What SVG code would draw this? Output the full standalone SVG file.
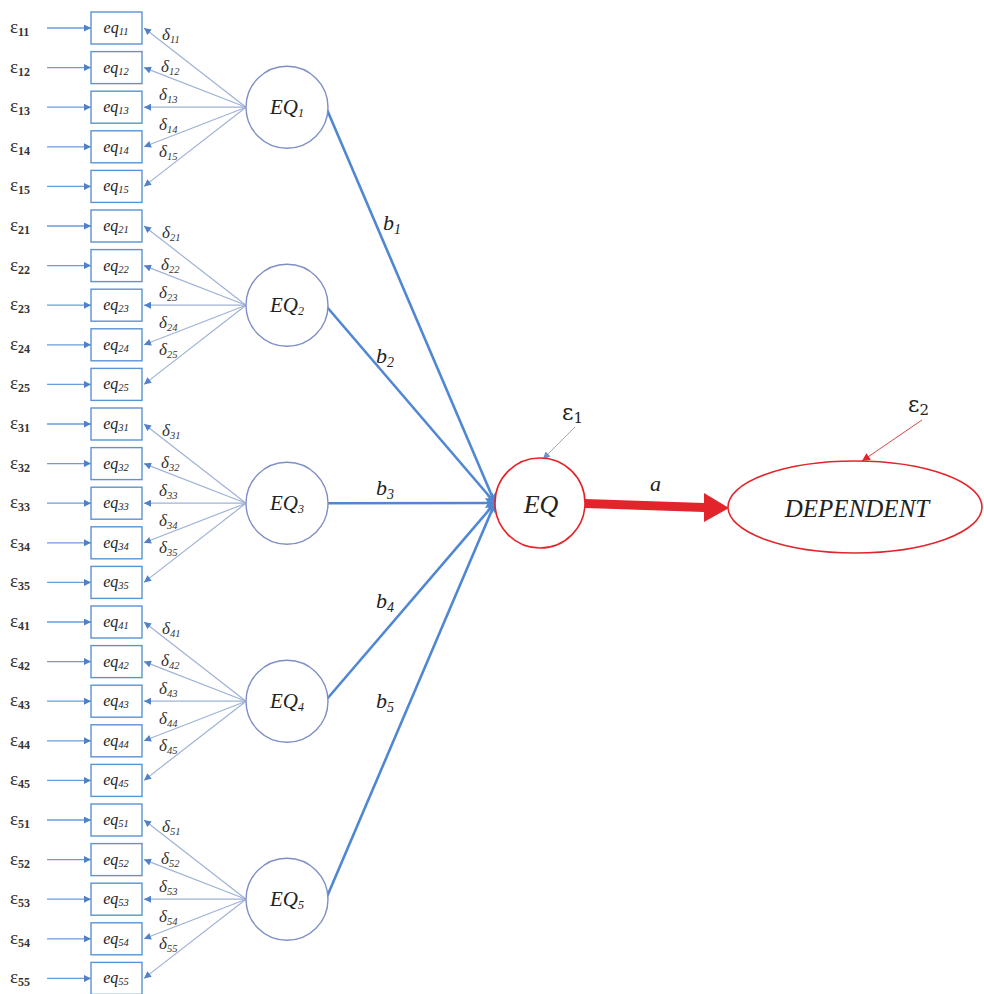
<svg xmlns="http://www.w3.org/2000/svg" width="984" height="994" viewBox="0 0 984 994">
<style>
.box{fill:#fff;stroke:#5b93d3;stroke-width:1.4}
.lat{fill:#fff;stroke:#7f8fc6;stroke-width:1.4}
.eps{font-family:"Liberation Serif",serif;font-size:19px;fill:#333}
.eps tspan{font-size:12px;font-weight:bold}
.eq{font-family:"Liberation Serif",serif;font-style:italic;font-size:16px;fill:#222;text-anchor:middle}
.eq tspan{font-size:10.5px}
.dl{font-family:"Liberation Serif",serif;font-style:italic;font-size:17px;fill:#333}
.dl tspan{font-size:10.5px}
.EQt{font-family:"Liberation Serif",serif;font-style:italic;font-size:21px;fill:#222;text-anchor:middle}
.EQt tspan{font-size:12px}
.bl{font-family:"Liberation Serif",serif;font-style:italic;font-size:22px;fill:#222}
.bl tspan{font-size:14px}
.ein{stroke:#6a9ddb;stroke-width:1.3;fill:none}
.dline{stroke:#9fb2d6;stroke-width:1.2;fill:none}
.main{stroke:#4f87d2;stroke-width:2.6;fill:none}
</style>
<defs>
<marker id="ah" viewBox="0 0 10 10" refX="10" refY="5" markerWidth="9" markerHeight="7" markerUnits="userSpaceOnUse" orient="auto"><path d="M0,0 L10,5 L0,10 z" fill="#4f80c8"/></marker>
<marker id="am" viewBox="0 0 10 10" refX="10" refY="5" markerWidth="13" markerHeight="10" markerUnits="userSpaceOnUse" orient="auto"><path d="M0,0 L10,5 L0,10 L3,5 z" fill="#4f87d2"/></marker>
<marker id="ag" viewBox="0 0 10 10" refX="10" refY="5" markerWidth="8" markerHeight="7" markerUnits="userSpaceOnUse" orient="auto"><path d="M0,0 L10,5 L0,10 z" fill="#6f90c8"/></marker>
<marker id="ar" viewBox="0 0 10 10" refX="10" refY="5" markerWidth="9" markerHeight="8" markerUnits="userSpaceOnUse" orient="auto"><path d="M0,0 L10,5 L0,10 z" fill="#e2252b"/></marker>
</defs>
<rect width="984" height="994" fill="#fff"/>

<g id="connectors">
<g class="ein" marker-end="url(#ah)">
<line x1="47" y1="28" x2="91" y2="28"/><line x1="47" y1="67.6" x2="91" y2="67.6"/><line x1="47" y1="107.2" x2="91" y2="107.2"/><line x1="47" y1="146.8" x2="91" y2="146.8"/><line x1="47" y1="186.4" x2="91" y2="186.4"/>
<line x1="47" y1="226" x2="91" y2="226"/><line x1="47" y1="265.6" x2="91" y2="265.6"/><line x1="47" y1="305.2" x2="91" y2="305.2"/><line x1="47" y1="344.8" x2="91" y2="344.8"/><line x1="47" y1="384.4" x2="91" y2="384.4"/>
<line x1="47" y1="424" x2="91" y2="424"/><line x1="47" y1="463.6" x2="91" y2="463.6"/><line x1="47" y1="503.2" x2="91" y2="503.2"/><line x1="47" y1="542.8" x2="91" y2="542.8"/><line x1="47" y1="582.4" x2="91" y2="582.4"/>
<line x1="47" y1="622" x2="91" y2="622"/><line x1="47" y1="661.6" x2="91" y2="661.6"/><line x1="47" y1="701.2" x2="91" y2="701.2"/><line x1="47" y1="740.8" x2="91" y2="740.8"/><line x1="47" y1="780.4" x2="91" y2="780.4"/>
<line x1="47" y1="820" x2="91" y2="820"/><line x1="47" y1="859.6" x2="91" y2="859.6"/><line x1="47" y1="899.2" x2="91" y2="899.2"/><line x1="47" y1="938.8" x2="91" y2="938.8"/><line x1="47" y1="978.4" x2="91" y2="978.4"/>
</g>
<g class="dline" marker-end="url(#ah)">
<line x1="246" y1="107.2" x2="144" y2="28"/><line x1="246" y1="107.2" x2="144" y2="67.6"/><line x1="246" y1="107.2" x2="144" y2="107.2"/><line x1="246" y1="107.2" x2="144" y2="146.8"/><line x1="246" y1="107.2" x2="144" y2="186.4"/>
<line x1="246" y1="305.2" x2="144" y2="226"/><line x1="246" y1="305.2" x2="144" y2="265.6"/><line x1="246" y1="305.2" x2="144" y2="305.2"/><line x1="246" y1="305.2" x2="144" y2="344.8"/><line x1="246" y1="305.2" x2="144" y2="384.4"/>
<line x1="246" y1="503.2" x2="144" y2="424"/><line x1="246" y1="503.2" x2="144" y2="463.6"/><line x1="246" y1="503.2" x2="144" y2="503.2"/><line x1="246" y1="503.2" x2="144" y2="542.8"/><line x1="246" y1="503.2" x2="144" y2="582.4"/>
<line x1="246" y1="701.2" x2="144" y2="622"/><line x1="246" y1="701.2" x2="144" y2="661.6"/><line x1="246" y1="701.2" x2="144" y2="701.2"/><line x1="246" y1="701.2" x2="144" y2="740.8"/><line x1="246" y1="701.2" x2="144" y2="780.4"/>
<line x1="246" y1="899.2" x2="144" y2="820"/><line x1="246" y1="899.2" x2="144" y2="859.6"/><line x1="246" y1="899.2" x2="144" y2="899.2"/><line x1="246" y1="899.2" x2="144" y2="938.8"/><line x1="246" y1="899.2" x2="144" y2="978.4"/>
</g>
<g class="main" marker-end="url(#am)">
<line x1="326" y1="107.2" x2="495" y2="503"/>
<line x1="327" y1="307" x2="495" y2="503"/>
<line x1="328" y1="503.2" x2="495" y2="503"/>
<line x1="327" y1="699" x2="495" y2="503"/>
<line x1="326" y1="899" x2="495" y2="503"/>
</g>
<line x1="575" y1="427" x2="543" y2="459" stroke="#a9a9a9" stroke-width="1" marker-end="url(#ag)"/>
<line x1="922" y1="420" x2="862" y2="461" stroke="#d9454a" stroke-width="1" marker-end="url(#ar)"/>
<polygon points="585,499 704,503 704,493 729,508 704,522 704,512 585,508" fill="#e2252b"/>
<text class="bl" x="383" y="230">b<tspan dy="4">1</tspan></text>
<text class="bl" x="376" y="363">b<tspan dy="4">2</tspan></text>
<text class="bl" x="376" y="495">b<tspan dy="4">3</tspan></text>
<text class="bl" x="376" y="608">b<tspan dy="4">4</tspan></text>
<text class="bl" x="376" y="708">b<tspan dy="4">5</tspan></text>
<text class="bl" x="650" y="491">a</text>
</g>

<g id="eps-labels" class="eps">
<text x="10" y="33">ε<tspan dy="3">11</tspan></text><text x="10" y="72.6">ε<tspan dy="3">12</tspan></text><text x="10" y="112.2">ε<tspan dy="3">13</tspan></text><text x="10" y="151.8">ε<tspan dy="3">14</tspan></text><text x="10" y="191.4">ε<tspan dy="3">15</tspan></text>
<text x="10" y="231">ε<tspan dy="3">21</tspan></text><text x="10" y="270.6">ε<tspan dy="3">22</tspan></text><text x="10" y="310.2">ε<tspan dy="3">23</tspan></text><text x="10" y="349.8">ε<tspan dy="3">24</tspan></text><text x="10" y="389.4">ε<tspan dy="3">25</tspan></text>
<text x="10" y="429">ε<tspan dy="3">31</tspan></text><text x="10" y="468.6">ε<tspan dy="3">32</tspan></text><text x="10" y="508.2">ε<tspan dy="3">33</tspan></text><text x="10" y="547.8">ε<tspan dy="3">34</tspan></text><text x="10" y="587.4">ε<tspan dy="3">35</tspan></text>
<text x="10" y="627">ε<tspan dy="3">41</tspan></text><text x="10" y="666.6">ε<tspan dy="3">42</tspan></text><text x="10" y="706.2">ε<tspan dy="3">43</tspan></text><text x="10" y="745.8">ε<tspan dy="3">44</tspan></text><text x="10" y="785.4">ε<tspan dy="3">45</tspan></text>
<text x="10" y="825">ε<tspan dy="3">51</tspan></text><text x="10" y="864.6">ε<tspan dy="3">52</tspan></text><text x="10" y="904.2">ε<tspan dy="3">53</tspan></text><text x="10" y="943.8">ε<tspan dy="3">54</tspan></text><text x="10" y="983.4">ε<tspan dy="3">55</tspan></text>
</g>

<g id="delta-labels" class="dl">
<text x="162" y="40">δ<tspan dy="3">11</tspan></text><text x="161" y="72">δ<tspan dy="3">12</tspan></text><text x="159" y="100">δ<tspan dy="3">13</tspan></text><text x="159" y="130">δ<tspan dy="3">14</tspan></text><text x="159" y="157">δ<tspan dy="3">15</tspan></text>
<text x="162" y="238">δ<tspan dy="3">21</tspan></text><text x="161" y="270">δ<tspan dy="3">22</tspan></text><text x="159" y="298">δ<tspan dy="3">23</tspan></text><text x="159" y="328">δ<tspan dy="3">24</tspan></text><text x="159" y="355">δ<tspan dy="3">25</tspan></text>
<text x="162" y="436">δ<tspan dy="3">31</tspan></text><text x="161" y="468">δ<tspan dy="3">32</tspan></text><text x="159" y="496">δ<tspan dy="3">33</tspan></text><text x="159" y="526">δ<tspan dy="3">34</tspan></text><text x="159" y="553">δ<tspan dy="3">35</tspan></text>
<text x="162" y="634">δ<tspan dy="3">41</tspan></text><text x="161" y="666">δ<tspan dy="3">42</tspan></text><text x="159" y="694">δ<tspan dy="3">43</tspan></text><text x="159" y="724">δ<tspan dy="3">44</tspan></text><text x="159" y="751">δ<tspan dy="3">45</tspan></text>
<text x="162" y="832">δ<tspan dy="3">51</tspan></text><text x="161" y="864">δ<tspan dy="3">52</tspan></text><text x="159" y="892">δ<tspan dy="3">53</tspan></text><text x="159" y="922">δ<tspan dy="3">54</tspan></text><text x="159" y="949">δ<tspan dy="3">55</tspan></text>
</g>

<g id="eq11"><rect class="box" x="91" y="12" width="51" height="32"/><text class="eq" x="116" y="33">eq<tspan dy="2">11</tspan></text></g>
<g id="eq12"><rect class="box" x="91" y="51.6" width="51" height="32"/><text class="eq" x="116" y="72.6">eq<tspan dy="2">12</tspan></text></g>
<g id="eq13"><rect class="box" x="91" y="91.2" width="51" height="32"/><text class="eq" x="116" y="112.2">eq<tspan dy="2">13</tspan></text></g>
<g id="eq14"><rect class="box" x="91" y="130.8" width="51" height="32"/><text class="eq" x="116" y="151.8">eq<tspan dy="2">14</tspan></text></g>
<g id="eq15"><rect class="box" x="91" y="170.4" width="51" height="32"/><text class="eq" x="116" y="191.4">eq<tspan dy="2">15</tspan></text></g>
<g id="eq21"><rect class="box" x="91" y="210" width="51" height="32"/><text class="eq" x="116" y="231">eq<tspan dy="2">21</tspan></text></g>
<g id="eq22"><rect class="box" x="91" y="249.6" width="51" height="32"/><text class="eq" x="116" y="270.6">eq<tspan dy="2">22</tspan></text></g>
<g id="eq23"><rect class="box" x="91" y="289.2" width="51" height="32"/><text class="eq" x="116" y="310.2">eq<tspan dy="2">23</tspan></text></g>
<g id="eq24"><rect class="box" x="91" y="328.8" width="51" height="32"/><text class="eq" x="116" y="349.8">eq<tspan dy="2">24</tspan></text></g>
<g id="eq25"><rect class="box" x="91" y="368.4" width="51" height="32"/><text class="eq" x="116" y="389.4">eq<tspan dy="2">25</tspan></text></g>
<g id="eq31"><rect class="box" x="91" y="408" width="51" height="32"/><text class="eq" x="116" y="429">eq<tspan dy="2">31</tspan></text></g>
<g id="eq32"><rect class="box" x="91" y="447.6" width="51" height="32"/><text class="eq" x="116" y="468.6">eq<tspan dy="2">32</tspan></text></g>
<g id="eq33"><rect class="box" x="91" y="487.2" width="51" height="32"/><text class="eq" x="116" y="508.2">eq<tspan dy="2">33</tspan></text></g>
<g id="eq34"><rect class="box" x="91" y="526.8" width="51" height="32"/><text class="eq" x="116" y="547.8">eq<tspan dy="2">34</tspan></text></g>
<g id="eq35"><rect class="box" x="91" y="566.4" width="51" height="32"/><text class="eq" x="116" y="587.4">eq<tspan dy="2">35</tspan></text></g>
<g id="eq41"><rect class="box" x="91" y="606" width="51" height="32"/><text class="eq" x="116" y="627">eq<tspan dy="2">41</tspan></text></g>
<g id="eq42"><rect class="box" x="91" y="645.6" width="51" height="32"/><text class="eq" x="116" y="666.6">eq<tspan dy="2">42</tspan></text></g>
<g id="eq43"><rect class="box" x="91" y="685.2" width="51" height="32"/><text class="eq" x="116" y="706.2">eq<tspan dy="2">43</tspan></text></g>
<g id="eq44"><rect class="box" x="91" y="724.8" width="51" height="32"/><text class="eq" x="116" y="745.8">eq<tspan dy="2">44</tspan></text></g>
<g id="eq45"><rect class="box" x="91" y="764.4" width="51" height="32"/><text class="eq" x="116" y="785.4">eq<tspan dy="2">45</tspan></text></g>
<g id="eq51"><rect class="box" x="91" y="804" width="51" height="32"/><text class="eq" x="116" y="825">eq<tspan dy="2">51</tspan></text></g>
<g id="eq52"><rect class="box" x="91" y="843.6" width="51" height="32"/><text class="eq" x="116" y="864.6">eq<tspan dy="2">52</tspan></text></g>
<g id="eq53"><rect class="box" x="91" y="883.2" width="51" height="32"/><text class="eq" x="116" y="904.2">eq<tspan dy="2">53</tspan></text></g>
<g id="eq54"><rect class="box" x="91" y="922.8" width="51" height="32"/><text class="eq" x="116" y="943.8">eq<tspan dy="2">54</tspan></text></g>
<g id="eq55"><rect class="box" x="91" y="962.4" width="51" height="32"/><text class="eq" x="116" y="983.4">eq<tspan dy="2">55</tspan></text></g>

<g id="EQ1"><circle class="lat" cx="287" cy="107.2" r="41"/><text class="EQt" x="287" y="114">EQ<tspan dy="3">1</tspan></text></g>
<g id="EQ2"><circle class="lat" cx="287" cy="305.2" r="41"/><text class="EQt" x="287" y="312">EQ<tspan dy="3">2</tspan></text></g>
<g id="EQ3"><circle class="lat" cx="287" cy="503.2" r="41"/><text class="EQt" x="287" y="510">EQ<tspan dy="3">3</tspan></text></g>
<g id="EQ4"><circle class="lat" cx="287" cy="701.2" r="41"/><text class="EQt" x="287" y="708">EQ<tspan dy="3">4</tspan></text></g>
<g id="EQ5"><circle class="lat" cx="287" cy="899.2" r="41"/><text class="EQt" x="287" y="906">EQ<tspan dy="3">5</tspan></text></g>

<g id="EQ"><circle cx="540" cy="503" r="45" fill="#fff" stroke="#e2252b" stroke-width="1.6"/><text x="541" y="513" font-family="Liberation Serif, serif" font-style="italic" font-size="26" fill="#222" text-anchor="middle">EQ</text></g>
<g id="DEPENDENT"><ellipse cx="855" cy="507" rx="127" ry="46" fill="#fff" stroke="#e2252b" stroke-width="1.6"/><text x="857" y="517" font-family="Liberation Serif, serif" font-style="italic" font-size="25" fill="#222" text-anchor="middle">DEPENDENT</text></g>
<g id="e1"><text x="562" y="420" font-family="DejaVu Serif, serif" font-size="22" fill="#222">ε<tspan font-size="15" dy="3">1</tspan></text></g>
<g id="e2"><text x="908" y="412" font-family="DejaVu Serif, serif" font-size="22" fill="#222">ε<tspan font-size="15" dy="3">2</tspan></text></g>
</svg>
